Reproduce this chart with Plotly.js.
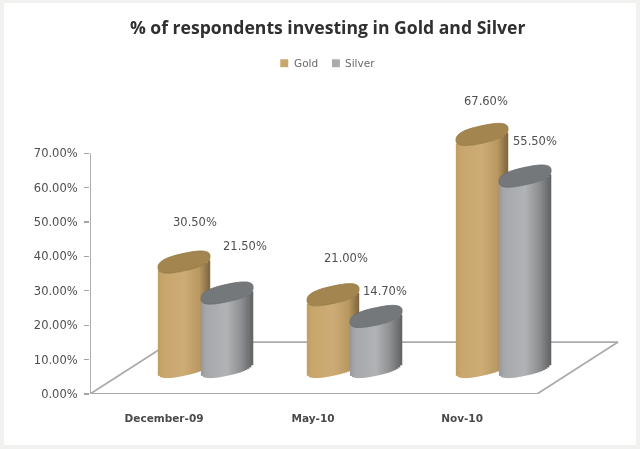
<!DOCTYPE html>
<html><head><meta charset="utf-8">
<script src="https://cdn.plot.ly/plotly-3.0.1.min.js"></script>
<style>
html,body{margin:0;padding:0;width:640px;height:449px;overflow:hidden;background:#f1f1ef}
#frame{position:absolute;left:4px;top:3px;width:632px;height:442px;background:#fff}
#chart{position:absolute;left:0;top:0;width:640px;height:449px;filter:blur(0.7px)}
</style></head><body>
<div id="frame"></div><div id="chart"></div>
<script>
const categories = ["December-09", "May-10", "Nov-10"];
const gold = [30.5, 21.0, 67.6];
const silver = [21.5, 14.7, 55.5];
const yTicks = [0, 10, 20, 30, 40, 50, 60, 70];

const catX = [0, 1, 2];
const base = 7.85, capH = 2.55, capTilt = 1.6, sq = 2.6;
const barW = 0.349, N = 26;
const goldStops = [[0,[192,158,98]],[0.1,[200,166,108]],[0.5,[205,172,118]],[0.8,[186,152,98]],[1,[125,102,62]]];
const silverStops = [[0,[150,152,155]],[0.1,[166,168,171]],[0.5,[176,178,181]],[0.78,[140,142,144]],[1,[96,98,99]]];
const series = [
  {name:"Gold", vals:gold, off:0.134, stops:goldStops, cap:"#a3854f", capEdge:"#94773f", swatch:"#c9a76c", legX:0.3665, shiftX:[11,13,4], shiftY:[40,37,33]},
  {name:"Silver", vals:silver, off:0.423, stops:silverStops, cap:"#74787b", capEdge:"#686c70", swatch:"#a9abad", legX:0.464, shiftX:[18,9,10], shiftY:[47,25,35]}
];
function color(stops,u){
  for(let i=1;i<stops.length;i++){
    if(u<=stops[i][0]){
      const a=stops[i-1],b=stops[i],k=(u-a[0])/(b[0]-a[0]);
      return "rgb("+a[1].map((c,j)=>Math.round(c+(b[1][j]-c)*k)).join(",")+")";
    }
  }
  return "rgb("+stops[stops.length-1][1].join(",")+")";
}
const traces=[], shapes=[], annotations=[];
const floorX=[-0.497,2.503,3.047,0.047], floorY=[0,0,15.1,15.1];
[[0,1],[1,2],[2,3],[3,0]].forEach(([a,b])=>shapes.push({type:"line",layer:"below",xref:"x",yref:"y",
  x0:floorX[a],y0:floorY[a],x1:floorX[b],y1:floorY[b],line:{color:"#ababab",width:1.8}}));
shapes.push({type:"line",layer:"below",xref:"x",yref:"y",x0:-0.497,y0:0,x1:-0.497,y1:70,line:{color:"#a4a4a4",width:1.8}});

series.forEach(s=>{
  const dw=barW/N;
  for(let i=0;i<N;i++){
    const u=(i+0.5)/N, t=2*u-1, dy=capTilt*t-capH*Math.pow(1-Math.pow(Math.abs(t),sq),1/sq);
    traces.push({type:"bar",name:s.name,showlegend:false,
      x:catX.map(c=>c+s.off-barW/2+u*barW),
      y:s.vals,
      base:s.vals.map(()=>base+dy),
      width:dw*1.2,
      marker:{color:color(s.stops,u),line:{width:0}},
      hoverinfo:"skip"});
  }
  s.vals.forEach((v,k)=>{
    const cx=catX[k]+s.off, cy=base+v;
    let p="";
    const M=64;
    for(let j=0;j<=M;j++){
      const a=2*Math.PI*j/M, ca=Math.cos(a), sa=Math.sin(a);
      const t=Math.sign(ca)*Math.pow(Math.abs(ca),2/sq), w=Math.sign(sa)*Math.pow(Math.abs(sa),2/sq);
      const X=cx+t*barW/2, Y=cy+capTilt*t+capH*w;
      p+=(j?"L":"M")+X.toFixed(4)+","+Y.toFixed(3);
    }
    shapes.push({type:"path",layer:"above",xref:"x",yref:"y",path:p+"Z",fillcolor:s.cap,line:{color:s.capEdge,width:0.8}});
    annotations.push({xref:"x",yref:"y",x:cx,y:cy,xshift:s.shiftX[k],yshift:s.shiftY[k],showarrow:false,
      text:v.toFixed(2)+"%",font:{family:"DejaVu Sans",size:11.5,color:"#4f4f4f"}});
  });
  shapes.push({type:"rect",xref:"paper",yref:"paper",x0:s.legX-0.0075,x1:s.legX+0.0075,y0:0.950,y1:0.973,fillcolor:s.swatch,line:{width:0}});
  annotations.push({xref:"paper",yref:"paper",x:s.legX+0.014,y:0.9615,xanchor:"left",yanchor:"middle",showarrow:false,
    text:s.name,font:{family:"DejaVu Sans",size:10.5,color:"#6a6a6a"}});
});

const layout={
  width:640,height:449,
  paper_bgcolor:"rgba(0,0,0,0)",plot_bgcolor:"rgba(0,0,0,0)",
  margin:{l:90,r:20,t:50,b:55},
  barmode:"overlay",showlegend:false,
  title:{text:"% of respondents investing in Gold and Silver",x:0.512,xanchor:"center",y:0.9376,yanchor:"middle",
    font:{family:"Open Sans",size:17.6,color:"#2f2f2f",weight:700}},
  xaxis:{range:[-0.497,3.06],tickmode:"array",tickvals:catX,ticktext:categories,showgrid:false,zeroline:false,showline:false,
    ticks:"outside",ticklen:14,tickcolor:"rgba(0,0,0,0)",tickfont:{family:"DejaVu Sans",size:10.5,color:"#4a4a4a",weight:700}},
  yaxis:{range:[0,100],tickmode:"array",tickvals:yTicks,ticktext:yTicks.map(v=>v.toFixed(2)+"%"),showgrid:false,zeroline:false,showline:false,
    ticks:"outside",ticklen:5,tickwidth:1.2,tickcolor:"#a4a4a4",ticklabelstandoff:4,tickfont:{family:"DejaVu Sans",size:11.5,color:"#4f4f4f"}},
  shapes,annotations
};
Plotly.newPlot("chart",traces,layout,{displayModeBar:false,staticPlot:true});
</script></body></html>
